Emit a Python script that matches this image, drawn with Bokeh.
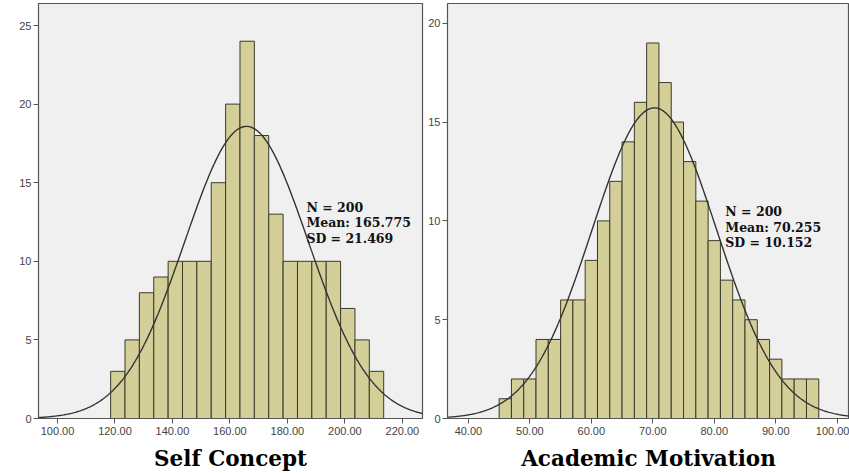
import numpy as np
from bokeh.plotting import figure
from bokeh.models import Label, FixedTicker, NumeralTickFormatter, Range1d
from bokeh.layouts import row
from bokeh.embed import file_html
from bokeh.resources import INLINE

# ---- Self Concept data ----
sc_title = "Self Concept"
sc_bin_start = 118.5
sc_bin_width = 5.0
sc_counts = [3, 5, 8, 9, 10, 10, 10, 15, 20, 24, 18, 13, 10, 10, 10, 10, 7, 5, 3]
sc_n = 200
sc_mean = 165.775
sc_sd = 21.469
sc_xticks = [100, 120, 140, 160, 180, 200, 220]
sc_yticks = [0, 5, 10, 15, 20, 25]
sc_stats = ["N = 200", "Mean: 165.775", "SD = 21.469"]

# ---- Academic Motivation data ----
am_title = "Academic Motivation"
am_bin_start = 45.0
am_bin_width = 2.0
am_counts = [1, 2, 2, 4, 4, 6, 6, 8, 10, 12, 14, 16, 19, 17, 15, 13, 11, 9, 7, 6, 5, 4, 3, 2, 2, 2]
am_n = 200
am_mean = 70.255
am_sd = 10.152
am_xticks = [40, 50, 60, 70, 80, 90, 100]
am_yticks = [0, 5, 10, 15, 20]
am_stats = ["N = 200", "Mean: 70.255", "SD = 10.152"]

BG = "#f0f0f0"
BAR = "#d4cf99"
EDGE = "#3a3a2a"
FRAME = "#555555"
TICK = "#444444"


def make_hist(width, height, xr, yr, bin_start, bin_width, counts, n, mean, sd,
              xticks, yticks, title, stats, stat_x, stat_y, border_left, border_right):
    p = figure(width=width, height=height, output_backend="svg", toolbar_location=None,
               x_range=Range1d(*xr), y_range=Range1d(*yr),
               min_border_left=border_left, min_border_right=border_right,
               min_border_top=3, min_border_bottom=50)
    p.background_fill_color = BG
    p.border_fill_color = "white"
    p.outline_line_color = FRAME
    p.outline_line_width = 1.2
    p.xgrid.visible = False
    p.ygrid.visible = False

    counts = np.array(counts, dtype=float)
    lefts = bin_start + np.arange(len(counts)) * bin_width
    p.quad(left=lefts, right=lefts + bin_width, bottom=0, top=counts,
           fill_color=BAR, line_color=EDGE, line_width=1)

    xs = np.linspace(xr[0], xr[1], 400)
    ys = n * bin_width / (sd * np.sqrt(2 * np.pi)) * np.exp(-0.5 * ((xs - mean) / sd) ** 2)
    p.line(xs, ys, line_color="#333333", line_width=1.4)

    for ax in (p.xaxis[0], p.yaxis[0]):
        ax.axis_line_color = FRAME
        ax.major_tick_line_color = FRAME
        ax.minor_tick_line_color = None
        ax.major_tick_in = 0
        ax.major_tick_out = 5
        ax.major_label_text_font = "Liberation Sans"
        ax.major_label_text_font_size = "11px"
        ax.major_label_text_color = TICK
    p.xaxis.ticker = FixedTicker(ticks=xticks)
    p.yaxis.ticker = FixedTicker(ticks=yticks)
    p.xaxis.formatter = NumeralTickFormatter(format="0.00")
    p.xaxis.major_label_standoff = 3
    p.yaxis.major_label_standoff = 2
    p.xaxis.axis_label = title
    p.xaxis.axis_label_text_font = "DejaVu Serif"
    p.xaxis.axis_label_text_font_style = "bold"
    p.xaxis.axis_label_text_font_size = "21.5px"
    p.xaxis.axis_label_text_color = "black"
    p.xaxis.axis_label_standoff = 8

    for i, s in enumerate(stats):
        p.add_layout(Label(x=stat_x, y=stat_y[i], text=s,
                           text_font="DejaVu Serif", text_font_style="bold",
                           text_font_size="12.5px", text_color="#111111",
                           text_baseline="alphabetic"))
    return p


p1 = make_hist(425, 473, (93.4, 227.0), (0, 26.4), sc_bin_start, sc_bin_width, sc_counts,
               sc_n, sc_mean, sc_sd, sc_xticks, sc_yticks, sc_title, sc_stats,
               186.6, [13.4, 12.45, 11.45], 38, 3)
p2 = make_hist(424, 473, (36.6, 102.0), (0, 21.0), am_bin_start, am_bin_width, am_counts,
               am_n, am_mean, am_sd, am_xticks, am_yticks, am_title, am_stats,
               81.8, [10.45, 9.65, 8.9], 22, 0)

layout = row(p1, p2)
open("out.html", "w").write(file_html(layout, INLINE))
